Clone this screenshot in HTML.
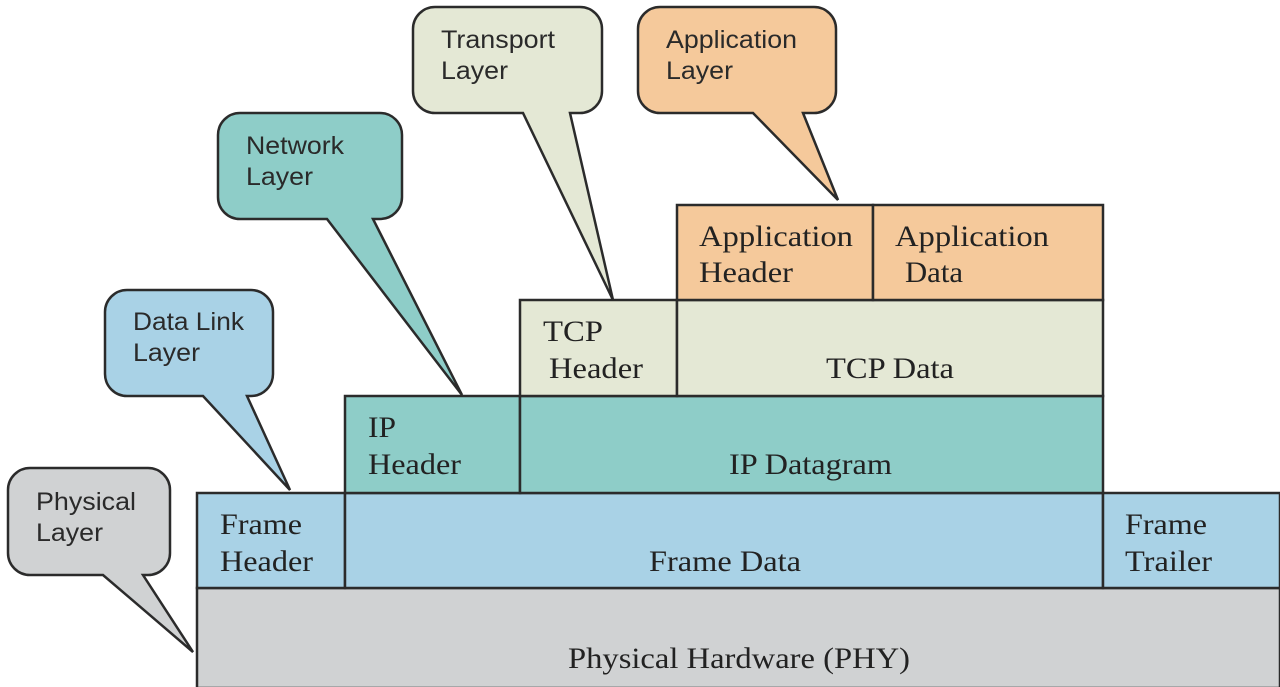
<!DOCTYPE html>
<html><head><meta charset="utf-8"><style>
html,body{margin:0;padding:0;background:#fff;}
svg{display:block;}
.c{font-family:"Liberation Sans",sans-serif;font-size:25px;fill:#2a2a2a;}
.s{font-family:"Liberation Serif",serif;font-size:30px;fill:#222;}
</style></head><body>
<svg width="1280" height="687" viewBox="0 0 1280 687" xmlns="http://www.w3.org/2000/svg">
<g stroke="#2b2b2b" stroke-width="2.5">
<rect x="197" y="588" width="1083" height="100" fill="#d0d2d3"/>
<rect x="197" y="493" width="148" height="95" fill="#a9d2e6"/>
<rect x="345" y="493" width="758" height="95" fill="#a9d2e6"/>
<rect x="1103" y="493" width="177" height="95" fill="#a9d2e6"/>
<rect x="345" y="396" width="175" height="97" fill="#8ecdc8"/>
<rect x="520" y="396" width="583" height="97" fill="#8ecdc8"/>
<rect x="520" y="300" width="157" height="96" fill="#e4e8d5"/>
<rect x="677" y="300" width="426" height="96" fill="#e4e8d5"/>
<rect x="677" y="205" width="196" height="95" fill="#f5c99b"/>
<rect x="873" y="205" width="230" height="95" fill="#f5c99b"/>

<path fill="#d0d2d3" d="M30,468 H148 A22,22 0 0 1 170,490 V553 A22,22 0 0 1 148,575 H143 L193,652 L103,575 H30 A22,22 0 0 1 8,553 V490 A22,22 0 0 1 30,468 Z"/>
<path fill="#a9d2e6" d="M127,290 H251 A22,22 0 0 1 273,312 V374 A22,22 0 0 1 251,396 H247 L290,490 L203,396 H127 A22,22 0 0 1 105,374 V312 A22,22 0 0 1 127,290 Z"/>
<path fill="#8ecdc8" d="M240,113 H380 A22,22 0 0 1 402,135 V197 A22,22 0 0 1 380,219 H373 L462,395 L327,219 H240 A22,22 0 0 1 218,197 V135 A22,22 0 0 1 240,113 Z"/>
<path fill="#e4e8d5" d="M435,7 H580 A22,22 0 0 1 602,29 V91 A22,22 0 0 1 580,113 H570 L613,300 L523,113 H435 A22,22 0 0 1 413,91 V29 A22,22 0 0 1 435,7 Z"/>
<path fill="#f5c99b" d="M660,7 H814 A22,22 0 0 1 836,29 V91 A22,22 0 0 1 814,113 H803 L838,200 L753,113 H660 A22,22 0 0 1 638,91 V29 A22,22 0 0 1 660,7 Z"/>
</g>

<g lengthAdjust="spacingAndGlyphs">
<text class="c" x="36" y="510" textLength="100" lengthAdjust="spacingAndGlyphs">Physical</text><text class="c" x="36" y="541" textLength="67" lengthAdjust="spacingAndGlyphs">Layer</text>
<text class="c" x="133" y="330" textLength="111" lengthAdjust="spacingAndGlyphs">Data Link</text><text class="c" x="133" y="361" textLength="67" lengthAdjust="spacingAndGlyphs">Layer</text>
<text class="c" x="246" y="154" textLength="98" lengthAdjust="spacingAndGlyphs">Network</text><text class="c" x="246" y="185" textLength="67" lengthAdjust="spacingAndGlyphs">Layer</text>
<text class="c" x="441" y="48" textLength="114" lengthAdjust="spacingAndGlyphs">Transport</text><text class="c" x="441" y="79" textLength="67" lengthAdjust="spacingAndGlyphs">Layer</text>
<text class="c" x="666" y="48" textLength="131" lengthAdjust="spacingAndGlyphs">Application</text><text class="c" x="666" y="79" textLength="67" lengthAdjust="spacingAndGlyphs">Layer</text>

<text class="s" x="220" y="534" textLength="82" lengthAdjust="spacingAndGlyphs">Frame</text><text class="s" x="220" y="571" textLength="93" lengthAdjust="spacingAndGlyphs">Header</text>
<text class="s" x="649" y="571" textLength="152" lengthAdjust="spacingAndGlyphs">Frame Data</text>
<text class="s" x="1125" y="534" textLength="82" lengthAdjust="spacingAndGlyphs">Frame</text><text class="s" x="1125" y="571" textLength="87" lengthAdjust="spacingAndGlyphs">Trailer</text>
<text class="s" x="568" y="668" textLength="342" lengthAdjust="spacingAndGlyphs">Physical Hardware (PHY)</text>
<text class="s" x="368" y="437" textLength="28" lengthAdjust="spacingAndGlyphs">IP</text><text class="s" x="368" y="474" textLength="93" lengthAdjust="spacingAndGlyphs">Header</text>
<text class="s" x="729" y="474" textLength="163" lengthAdjust="spacingAndGlyphs">IP Datagram</text>
<text class="s" x="543" y="341" textLength="60" lengthAdjust="spacingAndGlyphs">TCP</text><text class="s" x="549" y="378" textLength="94" lengthAdjust="spacingAndGlyphs">Header</text>
<text class="s" x="826" y="378" textLength="128" lengthAdjust="spacingAndGlyphs">TCP Data</text>
<text class="s" x="699" y="246" textLength="154" lengthAdjust="spacingAndGlyphs">Application</text><text class="s" x="699" y="282" textLength="94" lengthAdjust="spacingAndGlyphs">Header</text>
<text class="s" x="895" y="246" textLength="154" lengthAdjust="spacingAndGlyphs">Application</text><text class="s" x="905" y="282" textLength="58" lengthAdjust="spacingAndGlyphs">Data</text>
</g>
</svg>
</body></html>
